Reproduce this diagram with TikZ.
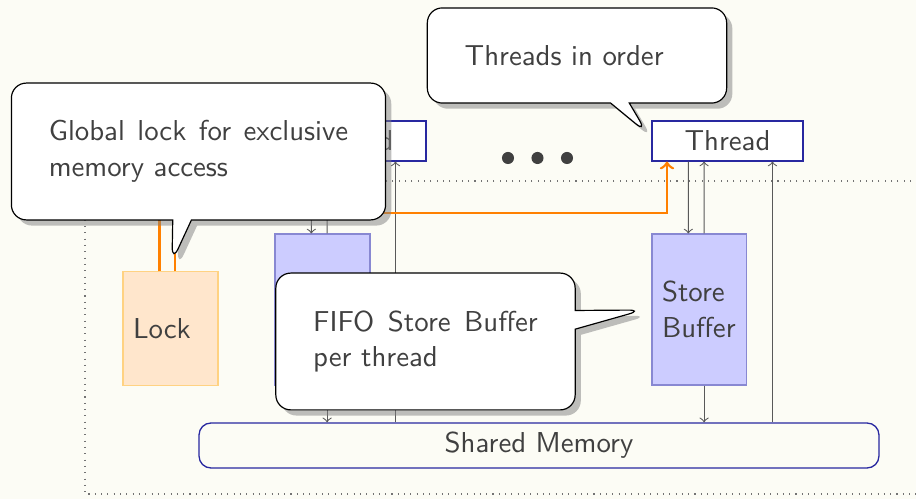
\documentclass[tikz,border=0pt]{standalone}
\usepackage{fontspec}
\usetikzlibrary{shapes.callouts,shadows,calc}
\definecolor{bgc}{RGB}{252,252,245}
\definecolor{txt}{RGB}{64,64,64}
\definecolor{thrd}{RGB}{40,40,160}
\definecolor{sbfill}{RGB}{204,204,255}
\definecolor{sbdraw}{RGB}{136,136,210}
\definecolor{lkfill}{RGB}{255,230,204}
\definecolor{lkdraw}{RGB}{255,210,130}
\definecolor{lkline}{RGB}{255,128,0}
\begin{document}
\begin{tikzpicture}[x=0.3802pt,y=-0.3802pt,
  every node/.style={font=\sffamily\fontsize{10.95}{13.6}\selectfont, text=txt},
  thread/.style={draw=thrd, fill=white, minimum width=57.4pt, minimum height=15.2pt, inner sep=0pt, line width=0.4pt},
  sbuf/.style={draw=sbdraw, fill=sbfill, minimum width=36.1pt, minimum height=57.4pt, text width=1cm, align=left, inner sep=0pt},
  lockbox/.style={draw=lkdraw, fill=lkfill, minimum width=36.1pt, minimum height=43pt, text width=1cm, align=left, inner sep=0pt},
  membox/.style={draw=thrd, rounded corners=4.5pt, minimum width=258.5pt, minimum height=17.1pt, inner sep=0pt, line width=0.5pt},
  conn/.style={draw=black!65, line width=0.4pt, ->},
  lockl/.style={draw=lkline, line width=1pt, ->},
  dotc/.style={circle, fill=txt, minimum size=4.6pt, inner sep=0pt},
  callbox/.style={rectangle callout, rounded corners=2mm, draw=black, fill=white, drop shadow, inner sep=5mm, line width=0.45pt, align=justify},
]
\useasboundingbox (0,0) rectangle (916,499);
\fill[bgc] (0,0) rectangle (916,499);
\clip (0,0) rectangle (916,499);
\draw[dotted, black!55] (930,181) -- (85,181) -- (85,494) -- (930,494);

\node[thread] (tA) at (350.5,141) {Thread};
\node[thread] (tB) at (727.5,141) {Thread};
\node[sbuf] (sbA) at (322.5,309.5) {Store\\Buffer};
\node[sbuf] (sbB) at (699.5,309.5) {Store\\Buffer};
\node[lockbox] (lock) at (170.5,328.5) {Lock};
\node[membox] (mem) at (539,445.5) {Shared Memory};

\node[dotc] (d1) at (508,158) {};
\node[dotc] (d2) at (537.5,158) {};
\node[dotc] (d3) at (567,158) {};

\foreach \t/\s in {tA/sbA, tB/sbB}{
  \draw[conn] ([xshift=14pt]\t.south west) -- ([xshift=14pt]\s.north west);
  \draw[conn] ([xshift=20pt]\s.north west) -- ([xshift=20pt]\t.south west);
  \draw[conn] ([xshift=20pt]\s.south west) -- ([xshift=20pt]\s.south west |- mem.north);
  \draw[conn] ([xshift=46pt]\t.south west |- mem.north) -- ([xshift=46pt]\t.south west);
}

\coordinate (bendL) at (290,198);
\coordinate (bendR) at (667,213);
\draw[lockl] ([xshift=14pt]lock.north west) |- (bendL) -- (bendL |- tA.south);
\draw[lockl] ([xshift=20pt]lock.north west) |- (bendR) -- (bendR |- tB.south);

\coordinate (p1) at (172,262);
\coordinate (p2) at (647,133);
\coordinate (p3) at (643,310);
\node[callbox, text width=4cm, callout absolute pointer={(p1)}] (c1) at (198.5,151.5)
  {Global lock for exclusive memory access};
\node[callbox, text width=3cm, callout absolute pointer={(p2)}] (c2) at (577,55.5)
  {Threads in order};
\node[callbox, text width=3cm, callout absolute pointer={(p3)}] (c3) at (425.5,341.5)
  {FIFO Store Buffer per thread};
\end{tikzpicture}
\end{document}
